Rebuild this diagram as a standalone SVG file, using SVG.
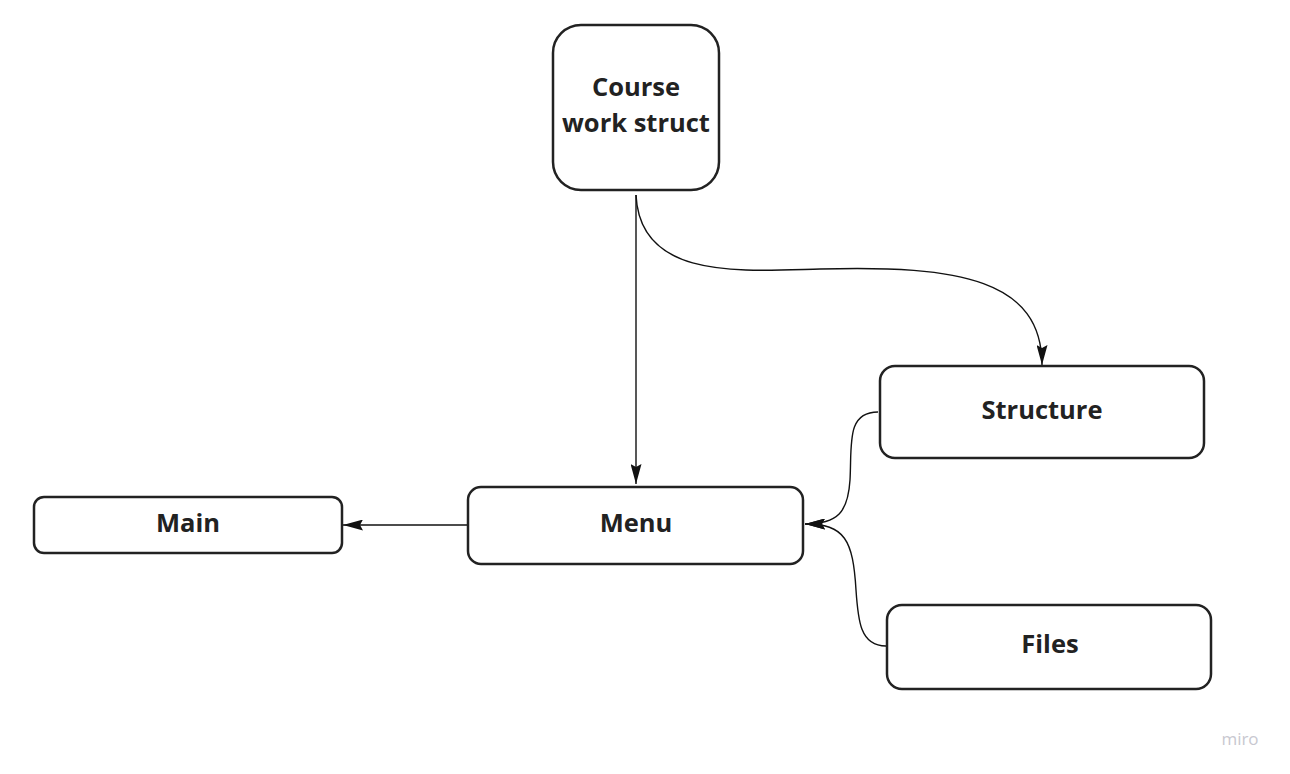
<svg xmlns="http://www.w3.org/2000/svg" width="1290" height="774" viewBox="0 0 1290 774">
<style>
.box{fill:#ffffff;stroke:#222222;stroke-width:2.5}
.lbl{font-family:"Open Sans","Noto Sans",sans-serif;font-weight:bold;font-size:25.5px;fill:#222222;text-anchor:middle}
.edge{fill:none;stroke:#111111;stroke-width:1.4}
</style>
<defs>
<marker id="arr" markerUnits="userSpaceOnUse" viewBox="0 0 20 11" refX="20" refY="5.5" markerWidth="20" markerHeight="11" orient="auto">
<path d="M0,0 L20,5.5 L0,11 L3,5.5 z" fill="#111111"/>
</marker>
</defs>
<rect width="1290" height="774" fill="#ffffff"/>
<g id="connectors">
<path class="edge" d="M636 195 L636 484" marker-end="url(#arr)"/>
<path class="edge" d="M636 195 C640 280, 740 271, 820 269 C960 265, 1042 280, 1042 365" marker-end="url(#arr)"/>
<path class="edge" d="M468 525 L343 525" marker-end="url(#arr)"/>
<path class="edge" d="M878 412 C846 412, 852 445, 850 480 C848 512, 838 524, 805 524" marker-end="url(#arr)"/>
<path class="edge" d="M886 646 C860 646, 858 620, 856 590 C853 540, 845 524, 805 524" marker-end="url(#arr)"/>
</g>
<g id="course">
<rect class="box" x="553" y="25" width="166" height="165" rx="28"/>
<text class="lbl" x="636" y="96">Course</text>
<text class="lbl" x="636" y="132">work struct</text>
</g>
<g id="structure">
<rect class="box" x="880" y="366" width="324" height="92" rx="15"/>
<text class="lbl" x="1042" y="419">Structure</text>
</g>
<g id="files">
<rect class="box" x="887" y="605" width="324" height="84" rx="15"/>
<text class="lbl" x="1050" y="653">Files</text>
</g>
<g id="menu">
<rect class="box" x="468" y="487" width="335" height="77" rx="13"/>
<text class="lbl" x="636" y="532">Menu</text>
</g>
<g id="main">
<rect class="box" x="34" y="497" width="308" height="56" rx="10"/>
<text class="lbl" x="188" y="532">Main</text>
</g>
<text x="1240" y="745" font-family="Open Sans, sans-serif" font-size="17" fill="#c8c8d0" text-anchor="middle">miro</text>
</svg>
